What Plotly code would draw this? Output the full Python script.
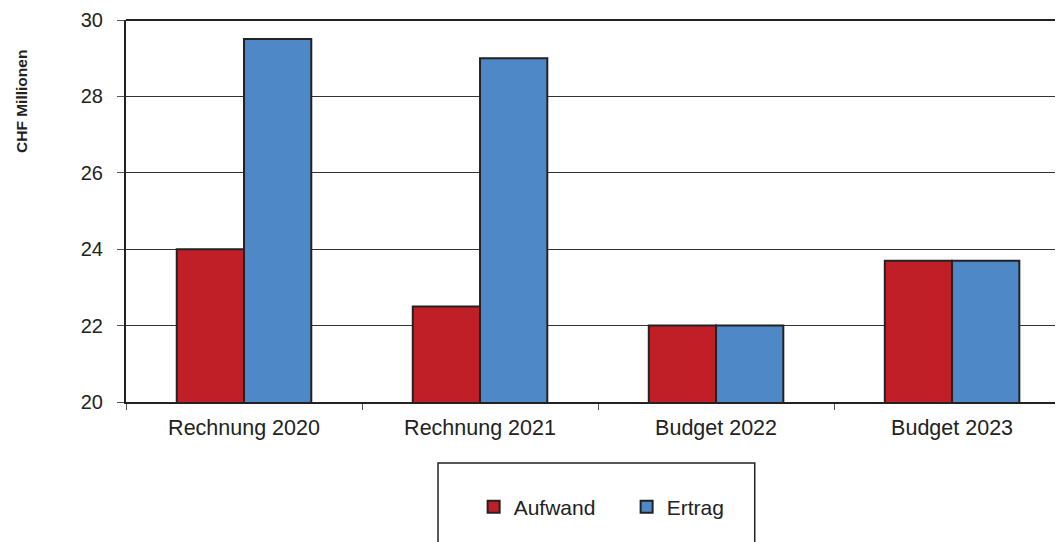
import plotly.graph_objects as go

categories = ["Rechnung 2020", "Rechnung 2021", "Budget 2022", "Budget 2023"]
aufwand = [24.0, 22.5, 22.0, 23.7]
ertrag = [29.5, 29.0, 22.0, 23.7]
y_ticks = [20, 22, 24, 26, 28, 30]

FONT = "Liberation Sans, Arial, sans-serif"

fig = go.Figure()
fig.add_trace(go.Bar(name="Aufwand", x=categories, y=aufwand,
                     marker=dict(color="#C11F28", line=dict(color="#222222", width=2))))
fig.add_trace(go.Bar(name="Ertrag", x=categories, y=ertrag,
                     marker=dict(color="#4E88C7", line=dict(color="#222222", width=2))))

fig.update_layout(
    width=1055, height=534,
    margin=dict(l=118, r=0, t=12, b=140),
    plot_bgcolor="white", paper_bgcolor="white",
    barmode="group", bargap=0.43, bargroupgap=0,
    font=dict(family=FONT, size=20, color="#222222"),
    showlegend=True,
    legend=dict(orientation="h", x=0.371, xanchor="left", y=-0.275, yanchor="middle",
                font=dict(size=21, color="#222222"), bgcolor="rgba(0,0,0,0)",
                itemwidth=30, entrywidth=108, entrywidthmode="pixels"),
    shapes=[dict(type="rect", xref="paper", yref="paper", x0=0.333, x1=0.671,
                 y0=-0.160, y1=-0.45, line=dict(color="#222222", width=1.5)),
            dict(type="line", xref="paper", yref="paper", x0=0, x1=1, y0=1, y1=1,
                 line=dict(color="#222222", width=2))],
    annotations=[dict(text="<b>CHF Millionen</b>", textangle=-90, xref="paper", yref="paper",
                      x=-0.111, y=0.788, xanchor="center", yanchor="middle", showarrow=False,
                      font=dict(size=15.5, color="#222222"))],
)
fig.update_xaxes(
    type="category", range=[-0.5, 3.47],
    showline=True, linecolor="#222222", linewidth=2,
    ticks="outside", tickson="boundaries", ticklen=6, tickcolor="#555555",
    showgrid=False, mirror=False, tickfont=dict(size=21.5),
    ticklabelstandoff=5,
)
fig.update_yaxes(
    range=[20, 30], tickvals=y_ticks,
    showline=True, linecolor="#222222", linewidth=2,
    ticks="outside", ticklen=7, tickcolor="#555555",
    showgrid=True, gridcolor="#333333", gridwidth=1,
    zeroline=False, tickfont=dict(size=20), ticklabelstandoff=10,
)

fig.write_html("out.html")
